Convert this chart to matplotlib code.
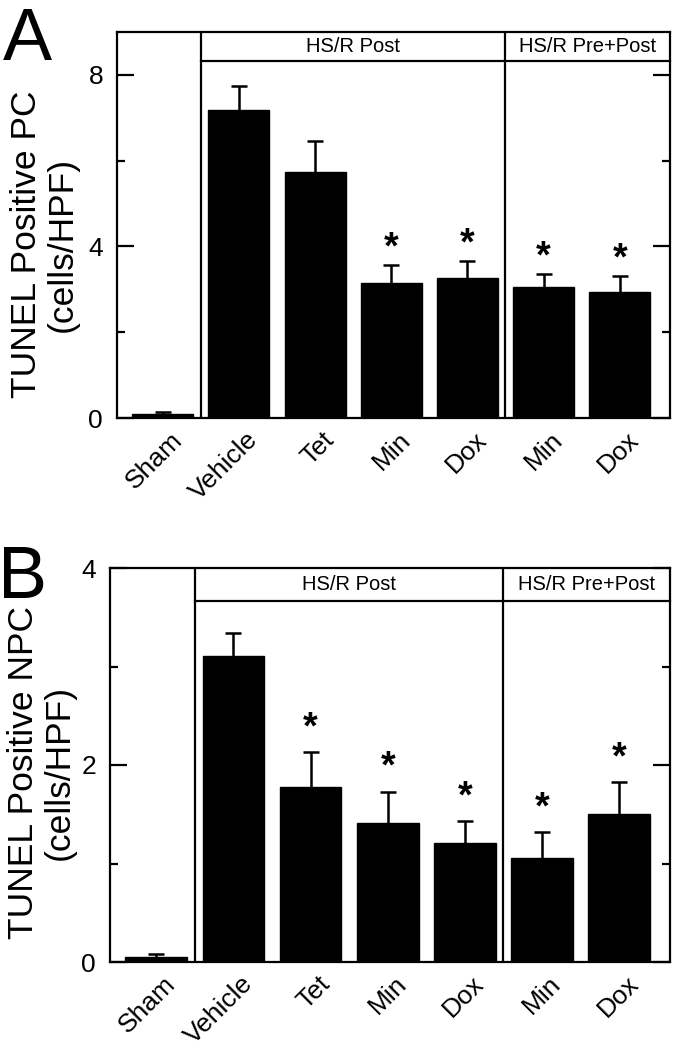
"""
TUNEL positive cells, panels A (PC) and B (NPC), HS/R treatment groups.
"""
import numpy as np
import matplotlib
matplotlib.use("Agg")
import matplotlib.pyplot as plt
from matplotlib.transforms import ScaledTranslation

plt.rcParams["font.family"] = ["Liberation Sans", "DejaVu Sans"]

GROUPS = ["Sham", "Vehicle", "Tet", "Min", "Dox", "Min", "Dox"]

PC_MEAN = [0.09, 7.18, 5.74, 3.15, 3.27, 3.06, 2.94]
PC_SEM = [0.05, 0.56, 0.72, 0.42, 0.39, 0.30, 0.37]
PC_STAR = [False, False, False, True, True, True, True]

NPC_MEAN = [0.05, 3.11, 1.78, 1.41, 1.21, 1.06, 1.50]
NPC_SEM = [0.03, 0.23, 0.35, 0.32, 0.22, 0.26, 0.33]
NPC_STAR = [False, False, True, True, True, True, True]

HEADERS = ["HS/R Post", "HS/R Pre+Post"]

XLIM = (-0.6, 6.66)
W, H = 677, 1050


def draw_panel(ax, means, sems, stars, ylim, major, minor, header_y, ylabel, star_off):
    x = np.arange(len(means))
    ax.bar(x, means, width=0.8, color="black", edgecolor="black", zorder=2)
    _, caps, _ = ax.errorbar(x, means, yerr=[np.zeros(len(sems)), sems], fmt="none",
                             ecolor="black", elinewidth=1.8, capsize=6, capthick=1.8,
                             zorder=3)
    caps[0].set_visible(False)  # no cap at the bar top
    for xi, m, s, st in zip(x, means, sems, stars):
        if st:
            ax.annotate("*", (xi, m + s), xytext=(0, star_off), textcoords="offset points",
                        ha="center", va="center", fontsize=27, fontweight="bold")

    ax.set_xlim(*XLIM)
    ax.set_ylim(*ylim)
    # group dividers and header band
    ax.axvline(0.5, color="black", lw=1.6, zorder=4)
    ax.axvline(4.5, color="black", lw=1.6, zorder=4)
    ax.plot([0.5, XLIM[1]], [header_y, header_y], color="black", lw=1.6,
            clip_on=False, zorder=4)
    ymid = (header_y + ylim[1]) / 2
    ax.text((0.5 + 4.5) / 2, ymid, HEADERS[0], ha="center", va="center", fontsize=14.5)
    ax.text((4.5 + XLIM[1]) / 2, ymid, HEADERS[1], ha="center", va="center", fontsize=14.5)

    ax.set_yticks(major)
    ax.set_yticks(minor, minor=True)
    ax.set_yticklabels([str(v) for v in major])
    ax.tick_params(axis="y", which="both", direction="in", left=True, right=True,
                   width=1.6, labelsize=19, pad=10)
    ax.tick_params(axis="y", which="major", length=12)
    ax.tick_params(axis="y", which="minor", length=6)

    ax.set_xticks(x)
    ax.set_xticklabels(GROUPS, rotation=45, ha="right", va="top",
                       rotation_mode="anchor", fontsize=19)
    ax.tick_params(axis="x", length=0, pad=7)
    shift = ScaledTranslation(7 / 100, 0, ax.figure.dpi_scale_trans)
    for lab in ax.get_xticklabels():
        lab.set_transform(lab.get_transform() + shift)

    for sp in ax.spines.values():
        sp.set_linewidth(1.6)
    ax.set_ylabel(ylabel, fontsize=25.5, linespacing=1.1)


fig = plt.figure(figsize=(W / 100, H / 100), dpi=100)

ax_a = fig.add_axes([117 / W, 1 - 418 / H, 553 / W, 386 / H])
draw_panel(ax_a, PC_MEAN, PC_SEM, PC_STAR, (0, 9), [0, 4, 8], [2, 6], 8.33,
           "TUNEL Positive PC\n(cells/HPF)", 12)
ax_a.yaxis.set_label_coords(-0.07, 0.45)

ax_b = fig.add_axes([110 / W, 1 - 962 / H, 560 / W, 394 / H])
draw_panel(ax_b, NPC_MEAN, NPC_SEM, NPC_STAR, (0, 4), [0, 2, 4], [1, 3], 3.66,
           "TUNEL Positive NPC\n(cells/HPF)", 17)
ax_b.yaxis.set_label_coords(-0.062, 0.48)

fig.text(3 / W, 1 - 60 / H, "A", fontsize=53, va="baseline", ha="left")
fig.text(-2 / W, 1 - 598 / H, "B", fontsize=53, va="baseline", ha="left")

fig.savefig("out.png", dpi=100)
